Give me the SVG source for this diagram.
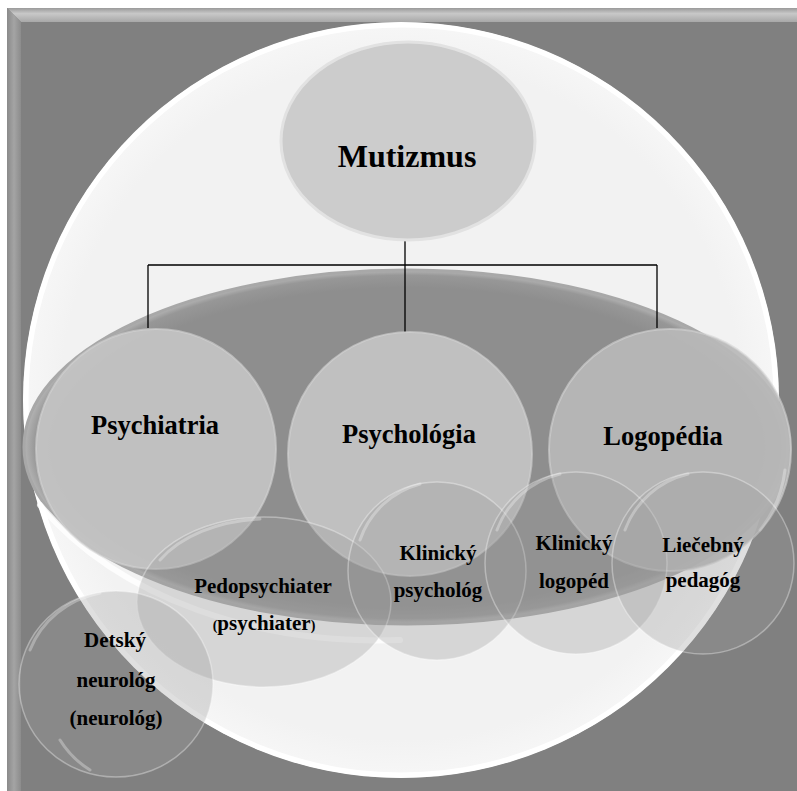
<svg xmlns="http://www.w3.org/2000/svg" width="797" height="791" viewBox="0 0 797 791">
<defs>
<style>
text{font-family:'Liberation Serif','Times New Roman','DejaVu Serif',serif;font-weight:bold;fill:#000;text-anchor:middle}
.big{fill:#c4c4c4;fill-opacity:0.92;stroke:#d4d4d4;stroke-opacity:0.6;stroke-width:2}
.bub{fill:#9a9a9a;fill-opacity:0.32;stroke:#ffffff;stroke-opacity:0.35;stroke-width:1.5}
.hl{fill:none;stroke:#ffffff;stroke-opacity:0.3;stroke-width:3;stroke-linecap:round}
.conn{fill:none;stroke:#000;stroke-width:1.3}
</style>
<linearGradient id="topBevel" x1="0" y1="0" x2="0" y2="1">
<stop offset="0" stop-color="#9a9a9a"/><stop offset="0.4" stop-color="#c8c8c8"/><stop offset="1" stop-color="#a8a8a8"/>
</linearGradient>
<linearGradient id="leftBevel" x1="0" y1="0" x2="1" y2="0">
<stop offset="0" stop-color="#8a8a8a"/><stop offset="0.5" stop-color="#a4a4a4"/><stop offset="1" stop-color="#8c8c8c"/>
</linearGradient>
<radialGradient id="disk" cx="0.5" cy="0.5" r="0.5">
<stop offset="0.9" stop-color="#f2f2f2"/><stop offset="0.985" stop-color="#f6f6f6"/><stop offset="1" stop-color="#ffffff"/>
</radialGradient>
<radialGradient id="plate" cx="0.5" cy="0.5" r="0.5">
<stop offset="0.9" stop-color="#8e8e8e"/><stop offset="0.97" stop-color="#979797"/><stop offset="1" stop-color="#b4b4b4"/>
</radialGradient>
</defs>

<g id="frame">
<rect x="7" y="8" width="790" height="783" fill="#808080"/>
<polygon points="7,8 797,8 797,22 21,22" fill="url(#topBevel)"/>
<polygon points="7,8 21,22 21,791 7,791" fill="url(#leftBevel)"/>
</g>

<g id="backdrop">
<circle cx="401" cy="400" r="378" fill="url(#disk)"/>
<circle cx="401" cy="400" r="375" fill="none" stroke="#ffffff" stroke-width="5"/>
</g>

<g id="plate-ellipse">
<ellipse cx="407" cy="447" rx="383" ry="177" fill="url(#plate)" stroke="#a8a8a8" stroke-width="3"/>
<path d="M40,505 C120,600 260,645 400,640" fill="none" stroke="#ffffff" stroke-width="6" stroke-opacity="0.8" stroke-linecap="round"/>
</g>

<g id="connectors">
<path class="conn" d="M405,240 V265 M148,265 H657 M148,265 V328 M405,265 V332 M657,265 V328"/>
</g>

<g id="node-mutizmus">
<ellipse cx="408" cy="141" rx="127" ry="99" fill="#cccccc" stroke="#e2e2e2" stroke-width="3"/>
<text x="407" y="167" font-size="32" font-family="Liberation Serif, serif">Mutizmus</text>
</g>

<g id="node-psychiatria">
<circle class="big" cx="156" cy="449" r="120"/>
<text x="155" y="434" font-size="26.5" font-family="Liberation Serif, serif">Psychiatria</text>
</g>

<g id="node-psychologia">
<circle class="big" cx="410" cy="454" r="122"/>
<text x="409" y="443" font-size="26.5" font-family="Liberation Serif, serif">Psychológia</text>
</g>

<g id="node-logopedia">
<circle class="big" cx="670" cy="450" r="121" style="fill:#b8b8b8"/>
<path class="hl" d="M785,470 A119,119 0 0 1 760,530" stroke-opacity="0.5"/>
<text x="663" y="445" font-size="26.5" font-family="Liberation Serif, serif">Logopédia</text>
</g>

<g id="node-pedopsychiater">
<ellipse class="bub" cx="264" cy="602" rx="127" ry="85"/>
<path class="hl" d="M160,560 A125,83 0 0 1 260,519"/>
<text x="263" y="593" font-size="21" font-family="Liberation Serif, serif">Pedopsychiater</text>
<text x="264" y="630" font-size="21" font-family="Liberation Serif, serif"><tspan font-size="14">(</tspan>psychiater<tspan font-size="14">)</tspan></text>
</g>

<g id="node-detsky-neurolog">
<ellipse class="bub" cx="116" cy="684" rx="97" ry="93"/>
<path class="hl" d="M30,650 A95,91 0 0 1 100,593"/>
<path class="hl" d="M60,740 A95,91 0 0 0 90,770" stroke-opacity="0.45"/>
<text x="115" y="647" font-size="21" font-family="Liberation Serif, serif">Detský</text>
<text x="116" y="687" font-size="21" font-family="Liberation Serif, serif">neurológ</text>
<text x="116" y="725" font-size="21" font-family="Liberation Serif, serif">(neurológ)</text>
</g>

<g id="node-klinicky-psycholog">
<circle class="bub" cx="437" cy="571" r="89"/>
<path class="hl" d="M360,540 A87,87 0 0 1 420,484"/>
<text x="438" y="560" font-size="21" font-family="Liberation Serif, serif">Klinický</text>
<text x="438" y="597" font-size="21" font-family="Liberation Serif, serif">psychológ</text>
</g>

<g id="node-klinicky-logoped">
<circle class="bub" cx="576" cy="563" r="91"/>
<path class="hl" d="M497,530 A89,89 0 0 1 560,474"/>
<text x="574" y="550" font-size="21" font-family="Liberation Serif, serif">Klinický</text>
<text x="574" y="588" font-size="21" font-family="Liberation Serif, serif">logopéd</text>
</g>

<g id="node-liecebny-pedagog">
<circle class="bub" cx="703" cy="563" r="91"/>
<path class="hl" d="M625,530 A89,89 0 0 1 688,474"/>
<text x="703" y="552" font-size="21" font-family="Liberation Serif, serif">Liečebný</text>
<text x="703" y="587" font-size="21" font-family="Liberation Serif, serif">pedagóg</text>
</g>
</svg>
